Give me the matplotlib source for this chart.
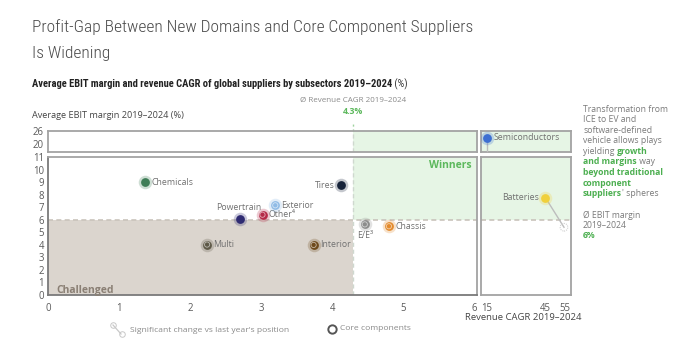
import matplotlib
matplotlib.use("Agg")
import matplotlib.pyplot as plt
from matplotlib.lines import Line2D
from matplotlib import font_manager

plt.rcParams['font.family'] = ['Open Sans', 'DejaVu Sans']

avail = {f.name for f in font_manager.fontManager.ttflist}
if 'Roboto Condensed' in avail:
    NARROW = ['Roboto Condensed', 'DejaVu Sans']
    TITLE_FS, SUB_FS = 12.5, 7.6
else:
    NARROW = ['Roboto', 'DejaVu Sans']
    TITLE_FS, SUB_FS = 10.9, 6.8

# ---------------- data ----------------
names = ["Chemicals", "Tires", "Exterior", "Other⁴", "Powertrain", "Multi", "Interior", "E/E³", "Chassis"]
cagr = [1.37, 4.12, 3.20, 3.02, 2.70, 2.24, 3.74, 4.46, 4.80]
ebit = [9.0, 8.75, 7.15, 6.4, 6.08, 4.02, 3.99, 5.63, 5.48]
core = [False, False, True, True, False, True, True, True, True]
colors = ["#3f7d57", "#17233a", "#8fbbe6", "#b52a48", "#2f2b72", "#5e5947", "#6e4a1c", "#8c8c8c", "#e38a2c"]
label_side = ["right", "left", "right", "right", "top", "right", "right", "bottom", "right"]

hi_names = ["Semiconductors", "Batteries"]
hi_cagr = [14.8, 45.0]
hi_ebit = [23.6, 7.75]
hi_prev_cagr = [14.8, 54.5]
hi_prev_ebit = [19.0, 5.4]
hi_colors = ["#3d6fd1", "#f0d03c"]

avg_cagr = 4.3
avg_ebit = 6.0

left_xticks = [0, 1, 2, 3, 4, 5, 6]
right_xticks = [15, 45, 55]
low_yticks = list(range(0, 12))
top_yticks = [20, 26]

W, H = 700, 356
fig = plt.figure(figsize=(7.0, 3.56), dpi=100)
renderer = fig.canvas.get_renderer()

def fx(x):
    return x / W

def fy(y):
    return 1 - y / H

def rect(x0, y0, x1, y1):
    return [fx(x0), fy(y1), fx(x1) - fx(x0), fy(y0) - fy(y1)]

def runs(x_px, y_px, parts, **common):
    """Draw text runs on one baseline, each starting where the previous ended."""
    x = x_px
    for txt, kw in parts:
        t = fig.text(fx(x), fy(y_px), txt, va='baseline', ha='left', **common, **kw)
        ext = t.get_window_extent(renderer=renderer)
        x = ext.x1

LX0, LX1 = 48, 477
RX0, RX1 = 481, 571
TY0, TY1 = 131, 152
BY0, BY1 = 157, 295

ax_tl = fig.add_axes(rect(LX0, TY0, LX1, TY1))
ax_tr = fig.add_axes(rect(RX0, TY0, RX1, TY1))
ax_bl = fig.add_axes(rect(LX0, BY0, LX1, BY1))
ax_br = fig.add_axes(rect(RX0, BY0, RX1, BY1))

green_bg = "#e6f5e5"
beige_bg = "#dbd5ce"
spine_c = "#a3a3a3"
tick_c = "#5a5a5a"

for ax in (ax_tl, ax_tr, ax_bl, ax_br):
    for s in ax.spines.values():
        s.set_color(spine_c)
        s.set_linewidth(1.3)
    ax.tick_params(length=0, labelsize=6.9, colors=tick_c, pad=3)

ax_bl.spines['left'].set_color("#7a7a7a")
ax_bl.spines['bottom'].set_color("#7a7a7a")

# limits
ax_tl.set_xlim(0, 6.04)
ax_bl.set_xlim(0, 6.04)
ax_tr.set_xlim(11.9, 58.1)
ax_br.set_xlim(11.9, 58.1)
ax_tl.set_ylim(18.6, 26)
ax_tr.set_ylim(18.6, 26)
ax_bl.set_ylim(0, 11)
ax_br.set_ylim(0, 11)

# ticks
ax_tl.set_xticks([])
ax_tr.set_xticks([])
ax_tl.set_yticks(top_yticks)
ax_tr.set_yticks([])
ax_bl.set_yticks(low_yticks)
ax_br.set_yticks([])
ax_bl.set_xticks(left_xticks)
ax_br.set_xticks(right_xticks)
for ax in (ax_bl, ax_br):
    ax.tick_params(axis='x', pad=6)
# keep the close "20" / "11" labels apart
for lab in ax_tl.get_yticklabels():
    if lab.get_text() == "20":
        lab.set_va('baseline')

# backgrounds
ax_bl.axvspan(0, avg_cagr, ymin=0, ymax=avg_ebit / 11, color=beige_bg, zorder=0, lw=0)
ax_bl.axvspan(avg_cagr, 6.04, ymin=avg_ebit / 11, ymax=1, color=green_bg, zorder=0, lw=0)
ax_tl.axvspan(avg_cagr, 6.04, color=green_bg, zorder=0, lw=0)
ax_tr.axvspan(11.9, 58.1, color=green_bg, zorder=0, lw=0)
ax_br.axvspan(11.9, 58.1, ymin=avg_ebit / 11, ymax=1, color=green_bg, zorder=0, lw=0)

# dashed average lines
dash_c = "#c9c3bb"
ax_bl.axhline(avg_ebit, color=dash_c, lw=1.2, ls=(0, (3, 2)), zorder=1)
ax_br.axhline(avg_ebit, color=dash_c, lw=1.2, ls=(0, (3, 2)), zorder=1)
ax_bl.axvline(avg_cagr, color="#cfd8cf", lw=1.0, ls=(0, (3, 2)), zorder=1)
ax_tl.axvline(avg_cagr, color="#cfd8cf", lw=1.0, ls=(0, (3, 2)), zorder=1)
ax_tl.plot([avg_cagr, avg_cagr], [26, 28.3], color="#9fd39f", lw=1.0, ls=(0, (1.5, 2)), clip_on=False)

# region labels
ax_bl.text(0.12, 0.35, "Challenged", fontsize=7.5, fontweight='bold', color="#8a7f74", va='center', ha='left')
ax_bl.text(5.97, 10.3, "Winners", fontsize=7.5, fontweight='bold', color="#5cb85c", va='center', ha='right')

lab_c = "#707070"
lab_fs = 6.3

def draw_point(ax, x, y, c, is_core, z=5):
    ax.scatter([x], [y], s=95, color=c, alpha=0.25, lw=0, zorder=z)
    ax.scatter([x], [y], s=40, color=c, lw=0, zorder=z + 1)
    if is_core:
        ax.scatter([x], [y], s=14, facecolor='none', edgecolor="#ffffff", lw=0.6, alpha=0.6, zorder=z + 2)

for n, x, y, c, k, side in zip(names, cagr, ebit, colors, core, label_side):
    draw_point(ax_bl, x, y, c, k)
    if side == "right":
        ax_bl.annotate(n, (x, y), xytext=(4.5, 0), textcoords='offset points', fontsize=lab_fs, color=lab_c, va='center', ha='left')
    elif side == "left":
        ax_bl.annotate(n, (x, y), xytext=(-4.5, 0), textcoords='offset points', fontsize=lab_fs, color=lab_c, va='center', ha='right')
    elif side == "top":
        ax_bl.annotate(n, (x, y), xytext=(-1, 5), textcoords='offset points', fontsize=lab_fs, color=lab_c, va='bottom', ha='center')
    else:
        ax_bl.annotate(n, (x, y), xytext=(0, -4.5), textcoords='offset points', fontsize=lab_fs, color=lab_c, va='top', ha='center')

# highlighted points with movement lines
hi_axes = [ax_tr, ax_br]
for ax, n, x, y, px_, py_, c in zip(hi_axes, hi_names, hi_cagr, hi_ebit, hi_prev_cagr, hi_prev_ebit, hi_colors):
    ax.plot([x, px_], [y, py_], color="#bdbdbd", lw=1.0, zorder=3, clip_on=False)
    draw_point(ax, x, y, c, False)
ax_br.scatter([hi_prev_cagr[1]], [hi_prev_ebit[1]], s=30, facecolor='none', edgecolor="#cfcfcf", lw=0.8, ls=(0, (1, 1)), zorder=4)
ax_tr.annotate(hi_names[0], (hi_cagr[0], hi_ebit[0]), xytext=(5, 0), textcoords='offset points', fontsize=lab_fs, color=lab_c, va='center', ha='left')
ax_br.annotate(hi_names[1], (hi_cagr[1], hi_ebit[1]), xytext=(-5, 0), textcoords='offset points', fontsize=lab_fs, color=lab_c, va='center', ha='right')

# ---------------- texts ----------------
fig.text(fx(32), fy(32), "Profit-Gap Between New Domains and Core Component Suppliers", fontsize=TITLE_FS, color="#4a4a4a",
         family=NARROW, fontweight='light', va='baseline', ha='left')
fig.text(fx(32), fy(58), "Is Widening", fontsize=TITLE_FS, color="#4a4a4a", family=NARROW, fontweight='light',
         va='baseline', ha='left')
runs(32, 87, [("Average EBIT margin and revenue CAGR of global suppliers by subsectors 2019–2024", dict(fontweight='bold', color="#222222")),
              (" (%)", dict(color="#333333"))], fontsize=SUB_FS, family=NARROW)

fig.text(fx(353), fy(100), "Ø Revenue CAGR 2019–2024", fontsize=5.8, color="#8a8a8a", ha='center', va='center')
fig.text(fx(353), fy(112), "4.3%", fontsize=6.3, color="#5cb85c", fontweight='bold', ha='center', va='center')

fig.text(fx(32), fy(116), "Average EBIT margin 2019–2024 (%)", fontsize=6.6, color="#444444", ha='left', va='center')
fig.text(fx(523), fy(318), "Revenue CAGR 2019–2024", fontsize=6.8, color="#444444", ha='center', va='center')

# legend: "significant change" icon drawn as small shapes
icon_c = "#c8c8c8"
fig.add_artist(Line2D([fx(113), fx(121)], [fy(325), fy(334)], color=icon_c, lw=0.9, transform=fig.transFigure))
fig.add_artist(Line2D([fx(113)], [fy(325)], marker='o', markersize=4, markerfacecolor='none', markeredgecolor=icon_c,
                      markeredgewidth=0.7, transform=fig.transFigure))
fig.add_artist(Line2D([fx(122)], [fy(334)], marker='o', markersize=4, markerfacecolor='none', markeredgecolor=icon_c,
                      markeredgewidth=0.7, linestyle='none', transform=fig.transFigure))
fig.text(fx(130), fy(330), "Significant change vs last year's position", fontsize=6.1, color="#8a8a8a", ha='left', va='center')
fig.add_artist(Line2D([fx(332)], [fy(329)], marker='o', markersize=6, markerfacecolor='white', markeredgecolor="#555555",
                      markeredgewidth=1.4, transform=fig.transFigure))
fig.text(fx(340), fy(329), "Core components", fontsize=6.1, color="#8a8a8a", ha='left', va='center')

# right annotation (mixed regular / bold green runs)
gr = "#4caf50"
ann_c = "#7a7a7a"
ann_fs = 6.2
ax0 = 583
reg = dict(color=ann_c)
bld = dict(color=gr, fontweight='bold')
lines = [
    [("Transformation from", reg)],
    [("ICE to EV and", reg)],
    [("software-defined", reg)],
    [("vehicle allows plays", reg)],
    [("yielding ", reg), ("growth", bld)],
    [("and margins", bld), (" way", reg)],
    [("beyond traditional", bld)],
    [("component", bld)],
    [("suppliers", bld), ("' spheres", reg)],
]
ys = [112, 122.5, 133, 143.5, 154, 164.5, 175, 185.5, 196]
for parts, yy in zip(lines, ys):
    runs(ax0, yy, parts, fontsize=ann_fs)

fig.text(fx(ax0), fy(215), "Ø EBIT margin", fontsize=ann_fs, color=ann_c, ha='left', va='center')
fig.text(fx(ax0), fy(226), "2019–2024", fontsize=ann_fs, color=ann_c, ha='left', va='center')
fig.text(fx(ax0), fy(236), "6%", fontsize=ann_fs, color=gr, fontweight='bold', ha='left', va='center')

fig.savefig("out.png", dpi=100)
